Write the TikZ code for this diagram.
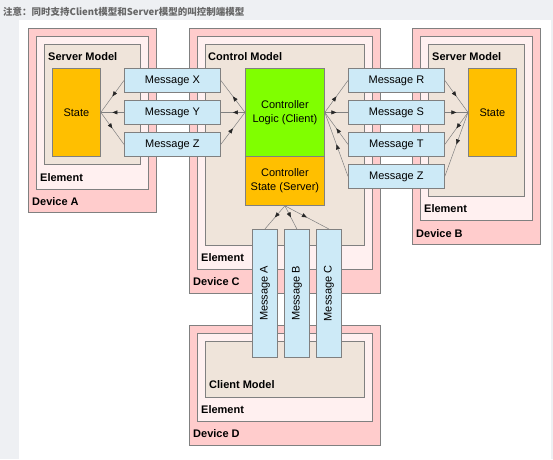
\documentclass[tikz,border=0pt]{standalone}
\usepackage{fontspec}
\setmainfont{Liberation Sans}
\newfontfamily\cjk{Noto Sans CJK SC}
\usepackage{graphicx}
\usetikzlibrary{arrows.meta,decorations.markings}

\definecolor{pagegray}{HTML}{EEF0F3}
\definecolor{devpink}{HTML}{FFCCCC}
\definecolor{elpink}{HTML}{FFF0F0}
\definecolor{modelbeige}{HTML}{EFE4DA}
\definecolor{stateorange}{HTML}{FFBF00}
\definecolor{logicgreen}{HTML}{80FF00}
\definecolor{msgblue}{HTML}{CDEAF7}
\definecolor{edgegray}{HTML}{808080}
\definecolor{titlegray}{HTML}{666666}

\begin{document}
\begin{tikzpicture}[x=1pt,y=-1pt,
        box/.style={draw=edgegray,line width=0.8pt,anchor=north west,inner sep=0pt},
        device/.style={box,fill=devpink},
        elem/.style={box,fill=elpink},
        model/.style={box,fill=modelbeige},
        state/.style={box,fill=stateorange,align=center},
        logic/.style={box,fill=logicgreen,align=center},
        msg/.style={box,fill=msgblue,minimum width=96pt,minimum height=24pt},
        vmsg/.style={box,fill=msgblue,minimum width=25pt,minimum height=128pt},
        lbl/.style={inner sep=0pt,anchor=west,font=\fontsize{11}{14}\selectfont\bfseries},
        flow/.style={draw=edgegray,line width=0.5pt,postaction={decorate},
            decoration={markings,mark=at position 0.5 with {\arrow[black!85]{Triangle[length=5pt,width=4pt]}}}},
        font=\fontsize{11}{14}\selectfont]

    \fill[pagegray] (0,0) rectangle (553,459);
    \fill[white] (19,20) rectangle (551,459);
    \node[inner sep=0pt,anchor=west,text=titlegray,font=\cjk\bfseries\fontsize{9.5}{11}\selectfont] (title) at (3,12) {注意：同时支持Client模型和Server模型的叫控制端模型};

    % Device A
    \node[device,minimum width=128pt,minimum height=184pt] (devA) at (28,28) {};
    \node[elem,minimum width=112pt,minimum height=153pt] (elA) at (36,36) {};
    \node[model,minimum width=96pt,minimum height=120pt] (smA) at (44,44) {};
    \node[state,minimum width=48pt,minimum height=88pt] (stA) at (52,68) {State};
    \node[lbl] at ([shift={(4,13)}]smA.north west) {Server Model};
    \node[lbl] at ([shift={(4,-12)}]elA.south west) {Element};
    \node[lbl] at ([shift={(4,-11)}]devA.south west) {Device A};

    % Device C
    \node[device,minimum width=191pt,minimum height=265pt] (devC) at (189,28) {};
    \node[elem,minimum width=175pt,minimum height=233pt] (elC) at (197,36) {};
    \node[model,minimum width=159pt,minimum height=201pt] (cm) at (205,44) {};
    \node[logic,minimum width=79pt,minimum height=88pt] (ctlLogic) at (245,68) {Controller\\Logic (Client)};
    \node[state,minimum width=79pt,minimum height=49pt] (ctlState) at (245,156) {Controller\\State (Server)};
    \node[lbl] at ([shift={(3,13)}]cm.north west) {Control Model};
    \node[lbl] at ([shift={(4,-12)}]elC.south west) {Element};
    \node[lbl] at ([shift={(4,-12)}]devC.south west) {Device C};

    % Device B
    \node[device,minimum width=128pt,minimum height=216pt] (devB) at (412,28) {};
    \node[elem,minimum width=112pt,minimum height=184pt] (elB) at (420,36) {};
    \node[model,minimum width=96pt,minimum height=152pt] (smB) at (428,44) {};
    \node[state,minimum width=48pt,minimum height=88pt] (stB) at (468,68) {State};
    \node[lbl] at ([shift={(4,13)}]smB.north west) {Server Model};
    \node[lbl] at ([shift={(4,-12)}]elB.south west) {Element};
    \node[lbl] at ([shift={(4,-11)}]devB.south west) {Device B};

    % Device D
    \node[device,minimum width=191pt,minimum height=120pt] (devD) at (189,325) {};
    \node[elem,minimum width=175pt,minimum height=88pt] (elD) at (197,333) {};
    \node[model,minimum width=159pt,minimum height=56pt] (cmD) at (205,341) {};
    \node[lbl] at ([shift={(4,-13)}]cmD.south west) {Client Model};
    \node[lbl] at ([shift={(4,-12)}]elD.south west) {Element};
    \node[lbl] at ([shift={(4,-12)}]devD.south west) {Device D};

    % messages
    \node[msg] (msgX) at (124,68) {Message X};
    \node[msg] (msgY) at (124,100) {Message Y};
    \node[msg] (msgZ) at (124,132) {Message Z};
    \node[msg] (msgR) at (348,68) {Message R};
    \node[msg] (msgS) at (348,100) {Message S};
    \node[msg] (msgT) at (348,132) {Message T};
    \node[msg] (msgZb) at (348,164) {Message Z};
    \node[vmsg] (msgA) at (252,229) {\rotatebox{90}{Message A}};
    \node[vmsg] (msgB) at (284,229) {\rotatebox{90}{Message B}};
    \node[vmsg] (msgC) at (316,229) {\rotatebox{90}{Message C}};

    \draw[flow] (ctlLogic.west) -- (msgX.east);
    \draw[flow] (ctlLogic.west) -- (msgY.east);
    \draw[flow] (msgZ.east) -- (ctlLogic.west);
    \draw[flow] (msgX.west) -- (stA.east);
    \draw[flow] (msgY.west) -- (stA.east);
    \draw[flow] (stA.east) -- (msgZ.west);

    \draw[flow] (ctlLogic.east) -- (msgR.west);
    \draw[flow] (ctlLogic.east) -- (msgS.west);
    \draw[flow] (msgT.west) -- (ctlLogic.east);
    \draw[flow] (msgZb.west) -- (ctlLogic.east);
    \draw[flow] (msgR.east) -- (stB.west);
    \draw[flow] (msgS.east) -- (stB.west);
    \draw[flow] (stB.west) -- (msgT.east);
    \draw[flow] (stB.west) -- (msgZb.east);

    \draw[flow] (ctlState.south) -- (msgA.north);
    \draw[flow] (ctlState.south) -- (msgB.north);
    \draw[flow] (ctlState.south) -- (msgC.north);

\end{tikzpicture}
\end{document}
